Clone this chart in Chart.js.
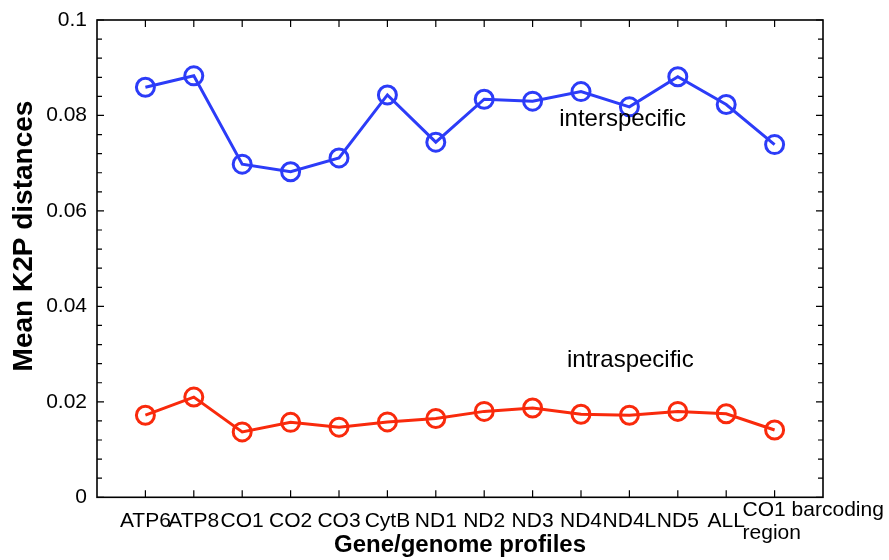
<!DOCTYPE html>
<html>
<head>
<meta charset="utf-8">
<script src="https://cdn.jsdelivr.net/npm/chart.js@4.4.1/dist/chart.umd.min.js"></script>
<style>
  html, body { margin: 0; padding: 0; background: #fff; }
  #chart { display: block; }
</style>
</head>
<body>
<canvas id="chart" width="889" height="560"></canvas>
<script>
// Gene/genome profiles along the x axis
const categories = ['ATP6', 'ATP8', 'CO1', 'CO2', 'CO3', 'CytB', 'ND1', 'ND2', 'ND3', 'ND4', 'ND4L', 'ND5', 'ALL', ['CO1 barcoding', 'region']];

// Mean K2P distances
const interspecific = [0.0859, 0.0883, 0.0698, 0.0682, 0.0711, 0.0843, 0.0744, 0.0834, 0.0830, 0.0850, 0.0818, 0.0881, 0.0823, 0.0739];
const intraspecific = [0.0172, 0.0210, 0.0137, 0.0157, 0.0147, 0.0158, 0.0165, 0.0180, 0.0187, 0.0174, 0.0172, 0.0180, 0.0175, 0.0141];

const yTickLabels = ['0', '0.02', '0.04', '0.06', '0.08', '0.1'];

// In-plot text labels (data coordinates)
const seriesNotes = [
  { text: 'interspecific', x: 9.55, y: 0.0777 },
  { text: 'intraspecific', x: 9.71, y: 0.0273 }
];

const blue = '#2c3cf8';
const red = '#f92a0c';
const fontFamily = '"Liberation Sans", Arial, sans-serif';

function toPoints(values) {
  return values.map((v, i) => ({ x: i + 1, y: v }));
}

// frame with inward ticks on all four sides, plus the text notes
const framePlugin = {
  id: 'frame',
  afterDatasetsDraw(chart) {
    const ctx = chart.ctx;
    const a = chart.chartArea;
    const x = chart.scales.x;
    const y = chart.scales.y;

    ctx.save();
    ctx.strokeStyle = '#000';
    ctx.lineWidth = 1.6;
    ctx.strokeRect(a.left, a.top, a.right - a.left, a.bottom - a.top);

    ctx.lineWidth = 1.2;
    ctx.beginPath();
    categories.forEach((c, i) => {
      const px = x.getPixelForValue(i + 1);
      ctx.moveTo(px, a.bottom); ctx.lineTo(px, a.bottom - 7);
      ctx.moveTo(px, a.top); ctx.lineTo(px, a.top + 7);
    });
    for (let k = 0; k <= 25; k++) {
      const py = y.getPixelForValue(k * 0.004);
      const len = k % 5 === 0 ? 7 : 5;
      ctx.moveTo(a.left, py); ctx.lineTo(a.left + len, py);
      ctx.moveTo(a.right, py); ctx.lineTo(a.right - len, py);
    }
    ctx.stroke();

    ctx.fillStyle = '#000';
    ctx.font = '24px ' + fontFamily;
    ctx.textAlign = 'left';
    ctx.textBaseline = 'alphabetic';
    seriesNotes.forEach(n => {
      ctx.fillText(n.text, x.getPixelForValue(n.x), y.getPixelForValue(n.y));
    });

    // the last category label is left aligned, a bit left of its tick
    const last = categories[categories.length - 1];
    const lx = x.getPixelForValue(categories.length) - 32;
    ctx.font = '21px ' + fontFamily;
    ctx.textBaseline = 'middle';
    last.forEach((line, i) => {
      ctx.fillText(line, lx, x.top + 13 + i * 23);
    });

    // y axis title
    ctx.translate(24, 236);
    ctx.rotate(-Math.PI / 2);
    ctx.font = 'bold 28px ' + fontFamily;
    ctx.textAlign = 'center';
    ctx.textBaseline = 'middle';
    ctx.fillText('Mean K2P distances', 0, 0);
    ctx.restore();
  }
};

const ctx = document.getElementById('chart').getContext('2d');
const chart = new Chart(ctx, {
  type: 'line',
  data: {
    datasets: [
      {
        label: 'interspecific',
        data: toPoints(interspecific),
        borderColor: blue,
        backgroundColor: 'rgba(0,0,0,0)',
        borderWidth: 3,
        pointRadius: 9,
        pointBorderWidth: 3,
        pointBorderColor: blue,
        pointBackgroundColor: 'rgba(0,0,0,0)',
        tension: 0
      },
      {
        label: 'intraspecific',
        data: toPoints(intraspecific),
        borderColor: red,
        backgroundColor: 'rgba(0,0,0,0)',
        borderWidth: 3,
        pointRadius: 9,
        pointBorderWidth: 3,
        pointBorderColor: red,
        pointBackgroundColor: 'rgba(0,0,0,0)',
        tension: 0
      }
    ]
  },
  options: {
    responsive: false,
    devicePixelRatio: 1,
    animation: false,
    layout: { padding: { top: 20, right: 66, left: 0, bottom: 0 } },
    plugins: {
      legend: { display: false },
      tooltip: { enabled: false }
    },
    scales: {
      x: {
        type: 'linear',
        min: 0,
        max: 15,
        grid: { display: false },
        border: { display: false },
        afterFit: s => { s.height = 62.7; },
        ticks: {
          stepSize: 1,
          autoSkip: false,
          maxRotation: 0,
          padding: 4,
          crossAlign: 'center',
          color: '#000',
          font: { family: fontFamily, size: 21, lineHeight: 1.1 },
          callback: v => {
            if (v === categories.length) return ['', ''];  // drawn by the plugin
            return categories[v - 1] || '';
          }
        },
        title: {
          display: true,
          text: 'Gene/genome profiles',
          color: '#000',
          padding: 0,
          font: { family: fontFamily, size: 24, weight: 'bold' }
        }
      },
      y: {
        min: 0,
        max: 0.1,
        grid: { display: false },
        border: { display: false },
        afterFit: s => { s.width = 97; },
        ticks: {
          stepSize: 0.02,
          padding: 2,
          color: '#000',
          font: { family: fontFamily, size: 21 },
          callback: (v, i) => yTickLabels[i]
        }
      }
    }
  },
  plugins: [framePlugin]
});
</script>
</body>
</html>
